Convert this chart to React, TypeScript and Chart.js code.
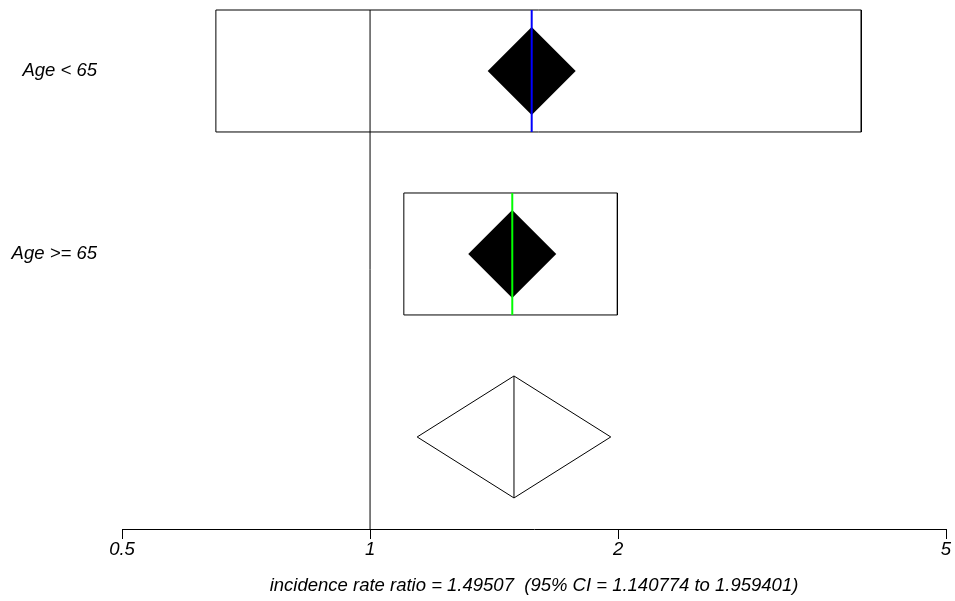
import React, { useEffect, useRef } from "react";
import { Chart, registerables } from "chart.js";

Chart.register(...registerables);

// ---- data ----
const rowLabels = ["Age < 65", "Age >= 65"];
const rowY = [3, 2];
const rowIrr = [1.571, 1.488];
const rowLow = [0.65, 1.099];
const rowHigh = [3.946, 1.996];
const rowLineColors = ["#0000FF", "#00FF00"];

const pooledY = 1;
const pooledIrr = 1.49507;
const pooledLow = 1.140774;
const pooledHigh = 1.959401;

const xTicks = [0.5, 1, 2, 5];
const xMin = 0.5;
const xMax = 5;
const refValue = 1;

const boxHalf = 0.3333;
const yMin = 0.497;
const yMax = 3.3333;

const xTitle = "incidence rate ratio = 1.49507  (95% CI = 1.140774 to 1.959401)";

const FONT = "'Liberation Sans', Arial, Helvetica, sans-serif";
const FSIZE = 18.5;

export default function App() {
  const ref = useRef<HTMLCanvasElement | null>(null);

  useEffect(() => {
    if (!ref.current) return;

    const lineDs = (data: { x: number; y: number }[], color: string, width: number) => ({
      type: "scatter" as const,
      data,
      showLine: true,
      borderColor: color,
      backgroundColor: color,
      borderWidth: width,
      pointRadius: 0,
      pointHoverRadius: 0,
      clip: false as any,
    });

    const datasets: any[] = [];

    // coloured estimate lines (drawn on top)
    rowIrr.forEach((v, i) => {
      datasets.push(
        lineDs(
          [
            { x: v, y: rowY[i] - boxHalf },
            { x: v, y: rowY[i] + boxHalf },
          ],
          rowLineColors[i],
          2
        )
      );
    });

    // pooled middle line
    datasets.push(
      lineDs(
        [
          { x: pooledIrr, y: pooledY - boxHalf },
          { x: pooledIrr, y: pooledY + boxHalf },
        ],
        "#000000",
        1
      )
    );

    // filled diamonds
    datasets.push({
      type: "scatter",
      data: rowIrr.map((v, i) => ({ x: v, y: rowY[i] })),
      showLine: false,
      pointStyle: "rectRot",
      pointRadius: 44,
      pointHoverRadius: 44,
      backgroundColor: "#000000",
      borderColor: "#000000",
      borderWidth: 0,
      clip: false,
    });

    // pooled outline diamond
    datasets.push(
      lineDs(
        [
          { x: pooledLow, y: pooledY },
          { x: pooledIrr, y: pooledY + boxHalf },
          { x: pooledHigh, y: pooledY },
          { x: pooledIrr, y: pooledY - boxHalf },
          { x: pooledLow, y: pooledY },
        ],
        "#000000",
        1
      )
    );

    // CI boxes
    rowIrr.forEach((_, i) => {
      const t = rowY[i] + boxHalf;
      const b = rowY[i] - boxHalf;
      datasets.push(
        lineDs(
          [
            { x: rowLow[i], y: t },
            { x: rowHigh[i], y: t },
            { x: rowHigh[i], y: b },
            { x: rowLow[i], y: b },
            { x: rowLow[i], y: t },
          ],
          "#000000",
          1
        )
      );
    });

    // reference line at 1
    datasets.push(
      lineDs(
        [
          { x: refValue, y: yMin },
          { x: refValue, y: yMax },
        ],
        "#000000",
        1
      )
    );

    const chart = new Chart(ref.current, {
      type: "scatter",
      data: { datasets },
      options: {
        animation: false,
        responsive: false,
        maintainAspectRatio: false,
        events: [],
        layout: { autoPadding: false, padding: { top: 10, right: 9, left: 0, bottom: 0 } },
        plugins: {
          legend: { display: false },
          tooltip: { enabled: false },
        },
        scales: {
          x: {
            type: "logarithmic",
            min: xMin,
            max: xMax,
            afterBuildTicks: (s: any) => {
              s.ticks = xTicks.map((v) => ({ value: v }));
            },
            afterFit: (s: any) => {
              s.height = 72;
            },
            ticks: {
              autoSkip: false,
              maxRotation: 0,
              padding: 0,
              color: "#000000",
              font: { family: FONT, size: FSIZE, style: "italic" },
              callback: (v: any) => String(v),
            },
            grid: {
              display: true,
              drawOnChartArea: false,
              drawTicks: true,
              tickLength: 10,
              color: "#000000",
              lineWidth: 1,
            },
            border: { display: true, color: "#000000", width: 1 },
            title: {
              display: true,
              text: xTitle,
              color: "#000000",
              font: { family: FONT, size: FSIZE, style: "italic" },
              padding: { top: 0, bottom: 4 },
            },
          },
          y: {
            type: "linear",
            min: yMin,
            max: yMax,
            afterBuildTicks: (s: any) => {
              s.ticks = rowY.map((v) => ({ value: v }));
            },
            afterFit: (s: any) => {
              s.width = 122;
              s.paddingTop = 0;
              s.paddingBottom = 0;
            },
            ticks: {
              padding: 25,
              color: "#000000",
              font: { family: FONT, size: FSIZE, style: "italic" },
              callback: (v: any) => {
                const idx = rowY.indexOf(Number(v));
                return idx >= 0 ? rowLabels[idx] : "";
              },
            },
            grid: { display: false, drawTicks: false },
            border: { display: false },
          },
        },
      } as any,
    });

    return () => chart.destroy();
  }, []);

  return (
    <div
      style={{
        position: "fixed",
        left: 0,
        top: 0,
        width: 955,
        height: 601,
        background: "#ffffff",
      }}
    >
      <canvas ref={ref} width={955} height={601} style={{ display: "block" }} />
    </div>
  );
}
